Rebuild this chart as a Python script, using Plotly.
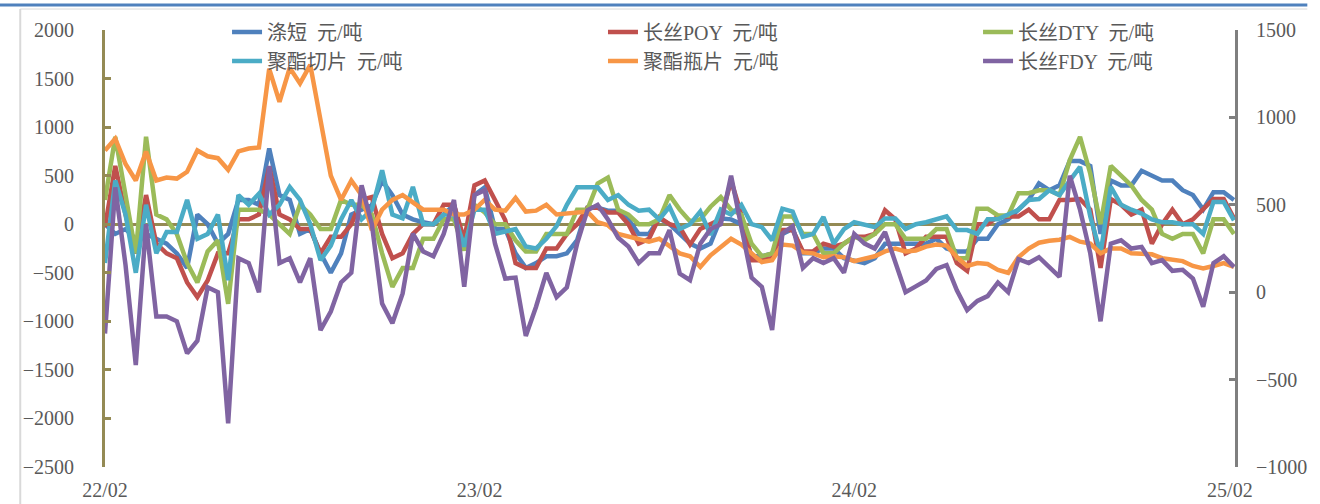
import pandas as pd
import plotly.graph_objects as go

# 10-day grid from 2022-02-01 to 2025-02-05
dates = pd.date_range("2022-02-01", periods=111, freq="10D")

# 涤短
psf = [0, -100, -50, -150, -100, -150, -200, -300, -450, 100,
       0, -200, -100, 250, 250, 200, 780, 300, 250, -100,
       -50, -300, -500, -300, 100, 150, 200, 450, 300, 100,
       50, 20, 0, 100, 200, -200, 300, 380, -50, -50,
       -300, -450, -400, -330, -330, -300, -165, 170, 170, 140,
       140, 50, -100, -100, 60, 0, -100, -200, -250, -200,
       60, 50, 0, -330, -330, -300, -100, -50, -300, -300,
       -250, -250, -350, -370, -400, -350, -200, -200, -200, -200,
       -200, -150, -250, -280, -280, -150, -150, 0, 50, 150,
       250, 420, 350, 400, 650, 650, 600, -100, 450, 400,
       400, 550, 500, 450, 450, 350, 300, 150, 330, 330,
       250]

# 长丝POY
poy = [-30, 600, 100, -300, 300, -200, -300, -350, -600, -750,
       -580, -300, -300, 50, 50, 100, 590, 100, 50, -50,
       -50, -300, -130, -130, 0, 250, 280, -100, -350, -300,
       -100, 0, 0, 200, 200, -160, 400, 450, 250, 40,
       -400, -450, -450, -250, -250, -100, 0, 170, 170, 120,
       120, 0, -200, -150, 70, 0, -30, -210, -50, 0,
       50, 450, 100, -370, -370, -350, -60, -60, -280, -280,
       -200, -230, -200, -130, -130, -100, 144, 50, -300, -250,
       -130, -130, -130, -400, -480, 0, 0, 80, 80, 80,
       150, 50, 50, 250, 250, 260, 150, -450, 260, 200,
       100, 150, -200, 0, 150, 0, 50, 150, 260, 260,
       60]

# 长丝DTY
dty = [250, 900, 300, -300, 900, 100, 50, -100, -400, -600,
       -280, -165, -820, 150, 150, 150, 100, 0, -100, 200,
       100, -50, -50, 250, 200, 200, 100, -300, -645, -450,
       -450, -150, -150, 50, 50, -270, 200, 120, 0, 0,
       -165, -280, -280, -100, -100, -100, 150, 150, 420, 480,
       150, 100, 0, 0, 50, 300, 150, 30, 50, 180,
       280, 150, 100, -200, -330, -300, 80, 80, -100, -100,
       -300, -300, -200, -130, -165, -100, 0, 0, -150, -150,
       -150, -50, -50, -350, -350, 160, 160, 90, 90, 320,
       320, 350, 350, 300, 660, 900, 520, 0, 600, 500,
       400, 250, 150, -100, -150, -100, -100, -300, 50, 50,
       -100]

# 聚酯切片
chip = [-400, 450, 100, -500, 200, -300, -80, -80, 250, -150,
        -100, 100, -576, 300, 200, 315, 100, 200, 384, 250,
        0, -370, -220, 50, 250, 50, 150, 555, 100, 60,
        384, 0, 0, 100, 100, -230, 150, 150, -100, -80,
        -50, -230, -250, -150, -20, 200, 380, 380, 380, 250,
        300, 200, 140, 150, 50, 180, -50, 0, 130, -110,
        150, 100, 200, 0, -30, -165, 160, 130, -130, -100,
        75, -200, -50, 20, 0, -30, 60, 60, -50, 0,
        20, 50, 80, -60, -60, -100, 50, 50, 100, 150,
        250, 260, 350, 300, 450, 590, 80, -300, 384, 200,
        150, 110, 50, 20, 20, 0, 0, -100, 230, 230,
        40]

# 聚酯瓶片
bottle = [760, 880, 620, 450, 750, 450, 480, 470, 540, 760,
          700, 680, 560, 750, 780, 790, 1600, 1260, 1610, 1450,
          1640, 1100, 500, 250, 450, 300, -60, 150, 250, 300,
          220, 150, 150, 150, 100, 100, 150, 250, 150, 140,
          270, 130, 140, 200, 100, 110, 130, 130, 20, -10,
          -100, -130, -150, -180, -150, -230, -300, -330, -440, -320,
          -240, -150, -210, -300, -390, -370, -210, -220, -290, -300,
          -340, -330, -340, -380, -350, -330, -280, -250, -280, -270,
          -230, -210, -220, -340, -430, -400, -410, -470, -500, -340,
          -250, -190, -170, -160, -130, -180, -200, -300, -250, -250,
          -300, -310, -310, -350, -370, -380, -430, -455, -430, -400,
          -440]

# 长丝FDY
fdy = [-1125, 380, -420, -1450, 0, -950, -950, -1000, -1330, -1200,
       -650, -700, -2050, -350, -400, -700, 600, -400, -350, -600,
       -350, -1090, -900, -600, -500, 400, 0, -816, -1020, -713,
       -96, -280, -330, -100, 250, -645, 300, 350, -200, -560,
       -550, -1150, -850, -500, -750, -650, -200, 144, 200, 50,
       -140, -230, -400, -300, -300, -60, -508, -576, -200, -50,
       0, 500, -27, -550, -645, -1090, -96, -20, -450, -350,
       -400, -350, -500, -100, -200, -250, -80, -380, -700, -640,
       -580, -460, -420, -680, -885, -790, -740, -600, -700, -360,
       -400, -340, -440, -542, 500, 150, -300, -1000, -200, -165,
       -250, -233, -400, -370, -480, -470, -560, -850, -400, -330,
       -440]

# (name, values, colour, legend column)
series = [
    ("涤短 \u00a0元/吨", psf, "#4F81BD", "legend"),
    ("长丝POY \u00a0元/吨", poy, "#C0504D", "legend2"),
    ("长丝DTY \u00a0元/吨", dty, "#9BBB59", "legend3"),
    ("聚酯切片 \u00a0元/吨", chip, "#4BACC6", "legend"),
    ("聚酯瓶片 \u00a0元/吨", bottle, "#F79646", "legend2"),
    ("长丝FDY \u00a0元/吨", fdy, "#8064A2", "legend3"),
]

FONT = "Liberation Serif, Noto Sans CJK SC, serif"
GREY_TXT = "#595959"

fig = go.Figure()
for name, vals, color, leg in series:
    fig.add_trace(go.Scatter(x=dates, y=vals, name=name, mode="lines", legend=leg,
                             line=dict(color=color, width=4.5)))

# empty trace so the right-hand axis is drawn
fig.add_trace(go.Scatter(x=[], y=[], yaxis="y2", showlegend=False, hoverinfo="skip"))


def legend_col(x):
    return dict(x=x, xanchor="left", y=1.04, yanchor="top", traceorder="normal",
                bgcolor="rgba(0,0,0,0)", font=dict(size=20, color=GREY_TXT, family=FONT))


fig.update_layout(
    width=1320, height=504, autosize=False,
    margin=dict(l=105, r=85, t=30, b=37),
    paper_bgcolor="white", plot_bgcolor="white",
    font=dict(family=FONT, size=20, color=GREY_TXT),
    legend=legend_col(0.108),
    legend2=legend_col(0.4407),
    legend3=legend_col(0.7726),
    xaxis=dict(type="date", range=["2022-02-01", "2025-02-06"],
               tickvals=["2022-02-01", "2023-02-01", "2024-02-01", "2025-02-01"],
               tickformat="%y/%m", showgrid=False, zeroline=False, showline=False,
               ticks="", ticklabelstandoff=9, automargin=False,
               tickfont=dict(size=20, family=FONT, color=GREY_TXT)),
    yaxis=dict(range=[-2500, 2000], dtick=500, showgrid=False, automargin=False,
               showline=True, linecolor="#948A54", linewidth=3,
               ticks="inside", ticklen=6, tickwidth=3, tickcolor="#948A54",
               zeroline=True, zerolinecolor="#948A54", zerolinewidth=3,
               ticklabelstandoff=24, tickfont=dict(size=20, family=FONT, color=GREY_TXT)),
    yaxis2=dict(range=[-1000, 1500], dtick=500, overlaying="y", side="right", anchor="x",
                showgrid=False, zeroline=False, showline=True, linecolor="#7F7F7F", linewidth=3,
                ticks="inside", ticklen=6, tickwidth=3, tickcolor="#7F7F7F", automargin=False,
                ticklabelstandoff=14, tickfont=dict(size=20, family=FONT, color=GREY_TXT)),
    shapes=[
        dict(type="line", xref="paper", yref="paper", x0=-0.093, x1=1.064, y0=1.057, y1=1.057,
             line=dict(color="#4F81BD", width=3)),
        dict(type="line", xref="paper", yref="paper", x0=-0.075, x1=1.064, y0=1.048, y1=1.048,
             line=dict(color="#D9D9D9", width=1)),
        dict(type="line", xref="paper", yref="paper", x0=-0.075, x1=-0.075, y0=1.048, y1=-0.09,
             line=dict(color="#D9D9D9", width=2)),
    ],
)

# the page body has a default 8px margin; drop it so the figure sits at the window origin
fig.write_html("out.html", config={"displayModeBar": False},
               post_script="document.body.style.margin='0';")
